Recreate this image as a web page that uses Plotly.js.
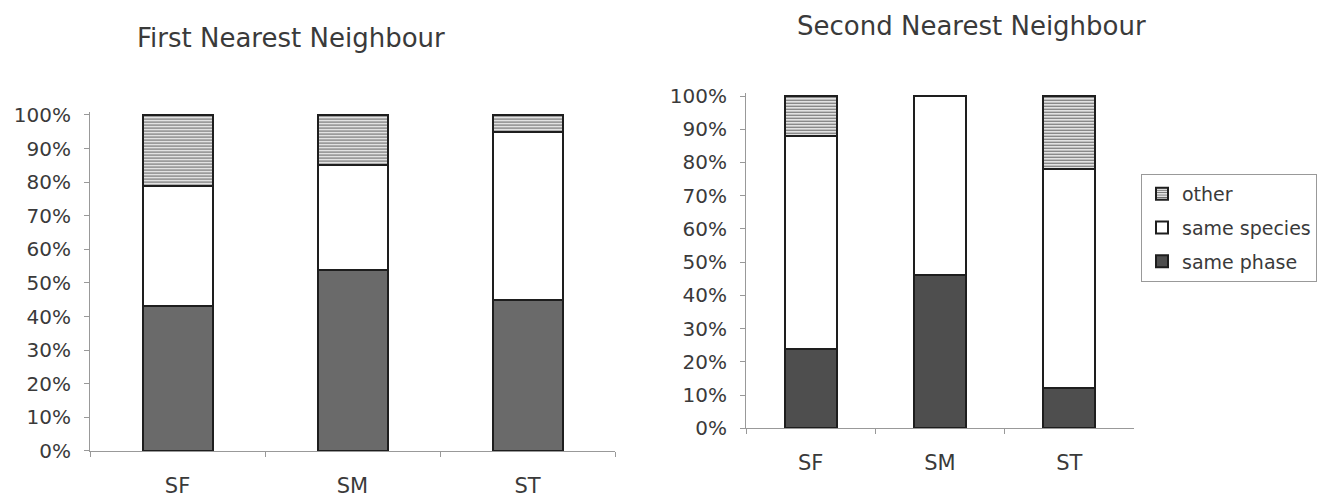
<!DOCTYPE html>
<html>
<head>
<meta charset="utf-8">
<script src="https://cdn.plot.ly/plotly-3.0.1.min.js"></script>
<style>html,body{margin:0;padding:0;background:#fff;}#chart{width:1331px;height:499px;}</style>
</head>
<body>
<div id="chart"></div>
<script>
// Data
const categories = ['SF', 'SM', 'ST'];
const first_samePhase = [43, 54, 45];
const first_sameSpecies = [36, 31, 50];
const first_other = [21, 15, 5];
const second_samePhase = [24, 46, 12];
const second_sameSpecies = [64, 54, 66];
const second_other = [12, 0, 22];
const seriesNames = ['same phase', 'same species', 'other'];
const titles = ['First Nearest Neighbour', 'Second Nearest Neighbour'];

const FONT = 'DejaVu Sans, Liberation Sans, Arial, sans-serif';
const lineStyle = {color: '#1e1e1e', width: 2};
function phaseMarker(c) { return {color: c, line: lineStyle}; }
const speciesMarker = {color: '#ffffff', line: lineStyle};
const otherMarker = {color: '#555', line: lineStyle,
  pattern: {shape: '-', fgcolor: '#666', bgcolor: '#e2e2e2', size: 3, solidity: 0.35, fillmode: 'replace'}};

const traces = [
  {type: 'bar', x: categories, y: first_samePhase, name: seriesNames[0], marker: phaseMarker('#6a6a6a'), xaxis: 'x', yaxis: 'y', showlegend: false, legendgroup: 'p', legendrank: 3},
  {type: 'bar', x: categories, y: first_sameSpecies, name: seriesNames[1], marker: speciesMarker, xaxis: 'x', yaxis: 'y', showlegend: false, legendgroup: 's', legendrank: 2},
  {type: 'bar', x: categories, y: first_other, name: seriesNames[2], marker: otherMarker, xaxis: 'x', yaxis: 'y', showlegend: false, legendgroup: 'o', legendrank: 1},
  {type: 'bar', x: categories, y: second_samePhase, name: seriesNames[0], marker: phaseMarker('#4e4e4e'), xaxis: 'x2', yaxis: 'y2', legendgroup: 'p', legendrank: 3},
  {type: 'bar', x: categories, y: second_sameSpecies, name: seriesNames[1], marker: speciesMarker, xaxis: 'x2', yaxis: 'y2', legendgroup: 's', legendrank: 2},
  {type: 'bar', x: categories, y: second_other, name: seriesNames[2], marker: otherMarker, xaxis: 'x2', yaxis: 'y2', legendgroup: 'o', legendrank: 1}
];

function yax(domain, anchor) {
  return {domain: domain, anchor: anchor, range: [0, 101], dtick: 10, tick0: 0, ticksuffix: '%', showgrid: false, zeroline: false,
    showline: true, linecolor: '#999', linewidth: 1, ticks: 'outside', ticklen: 5, tickcolor: '#999',
    tickfont: {family: FONT, size: 20, color: '#3a3a3a'}, ticklabelstandoff: 9, fixedrange: true};
}
function xax(domain, anchor) {
  return {domain: domain, anchor: anchor, showline: true, linecolor: '#999', linewidth: 1, ticks: 'outside',
    tickson: 'boundaries', ticklen: 5, tickcolor: '#999', tickfont: {family: FONT, size: 21, color: '#3a3a3a'}, showgrid: false,
    ticklabelstandoff: 16, fixedrange: true};
}

const layout = {
  width: 1331, height: 499,
  margin: {l: 0, r: 0, t: 0, b: 0},
  paper_bgcolor: '#fff', plot_bgcolor: 'rgba(0,0,0,0)',
  barmode: 'stack', bargap: 0.6,
  font: {family: FONT, color: '#3a3a3a'},
  xaxis: xax([90/1331, 615/1331], 'y'),
  yaxis: yax([0.0962, 0.7764], 'x'),
  xaxis2: xax([746/1331, 1134/1331], 'y2'),
  yaxis2: yax([0.1417, 0.8142], 'x2'),
  showlegend: true,
  legend: {x: 1141/1331, y: 1 - 174/499, xanchor: 'left', yanchor: 'top',
    bordercolor: '#999', borderwidth: 1, bgcolor: '#fff',
    font: {family: FONT, size: 19, color: '#3a3a3a'},
    traceorder: 'grouped', tracegroupgap: 6, itemwidth: 30},
  annotations: [
    {text: titles[0], xref: 'paper', yref: 'paper', x: 291/1331, y: 1 - 38/499, xanchor: 'center', yanchor: 'middle',
      showarrow: false, font: {family: FONT, size: 26, color: '#3a3a3a'}},
    {text: titles[1], xref: 'paper', yref: 'paper', x: 971/1331, y: 1 - 26/499, xanchor: 'center', yanchor: 'middle',
      showarrow: false, font: {family: FONT, size: 26, color: '#3a3a3a'}}
  ]
};

Plotly.newPlot('chart', traces, layout, {displayModeBar: false, staticPlot: true});
</script>
</body>
</html>
